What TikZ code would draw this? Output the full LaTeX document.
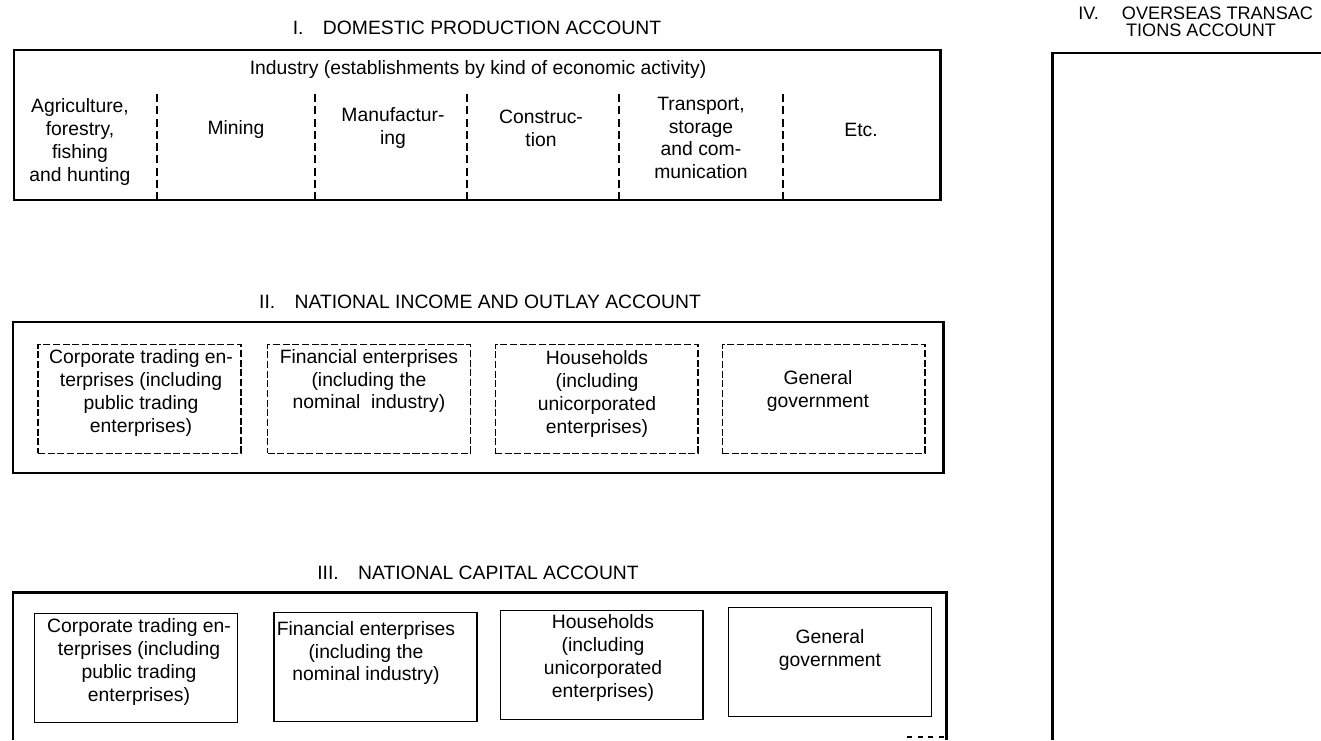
\documentclass[tikz,border=0pt]{standalone}
\usepackage{fontspec}
\setmainfont{Liberation Sans}
\usepackage{tikz}

\begin{document}
\begin{tikzpicture}[x=0.02cm, y=-0.02cm,
  acct/.style={line width=1.7pt},
  sep/.style={line width=1pt, dash pattern=on 4.5pt off 2.5pt},
  sector/.style={draw, line width=0.6pt, minimum width=4.06cm, minimum height=2.18cm, inner sep=0pt},
  sectord/.style={sector, dash pattern=on 4pt off 1.5pt},
  txt/.style={font=\fontsize{11}{13}\selectfont, align=center, inner sep=0pt},
  ttl/.style={font=\fontsize{11}{13}\selectfont, inner sep=0pt},
  ttls/.style={font=\fontsize{10.3}{12}\selectfont, inner sep=0pt}]
  \useasboundingbox (0,0) rectangle (1321,740);

  \node[ttl] (t1) at (477,28) {I.\quad DOMESTIC PRODUCTION ACCOUNT};
  \draw[acct] (14,50) rectangle (940,200);
  \node[txt] (ind) at (478,70) {Industry (establishments by kind of economic activity)};

  \draw[sep] (157,94) -- (157,200);
  \draw[sep] (315,94) -- (315,200);
  \draw[sep] (467,94) -- (467,200);
  \draw[sep] (619,94) -- (619,200);
  \draw[sep] (783,94) -- (783,200);

  \node[txt] (agr) at (80,142) {Agriculture,\\forestry,\\fishing\\and hunting};
  \node[txt] (mng) at (236,130) {Mining};
  \node[txt] (mfg) at (393,128) {Manufactur-\\ing};
  \node[txt] (cns) at (541,128) {Construc-\\tion};
  \node[txt] (trn) at (701,138) {Transport,\\storage\\and com-\\munication};
  \node[txt] (etc) at (861,130) {Etc.};

  \node[ttl] (t2) at (480,302) {II.\quad NATIONAL INCOME AND OUTLAY ACCOUNT};
  \draw[acct] (13,322) rectangle (943,473);

  \node[sectord] (corp2) at (139.5,399) {};
  \node[sectord] (fin2) at (369,399) {};
  \node[sectord] (hh2) at (596.5,399) {};
  \node[sectord] (gov2) at (823.5,399) {};

  \node[txt] (corp2t) at (141,393) {Corporate trading en-\\terprises (including\\public trading\\enterprises)};
  \node[txt] (fin2t) at (369,381) {Financial enterprises\\(including the\\nominal\ \ industry)};
  \node[txt] (hh2t) at (597,394) {Households\\(including\\unicorporated\\enterprises)};
  \node[txt] (gov2t) at (818,391) {General\\government};

  \node[ttl] (t3) at (478,573) {III.\quad NATIONAL CAPITAL ACCOUNT};
  \draw[acct] (13,740) -- (13,592) -- (946,592) -- (946,740);
  \draw[line width=0.6pt, dashed] (907,737) -- (946,737);

  \node[sector] (corp3) at (136,668) {};
  \node[sector] (fin3) at (375.5,667) {};
  \node[sector] (hh3) at (601.5,665) {};
  \node[sector] (gov3) at (830,662) {};

  \node[txt] (corp3t) at (139,662) {Corporate trading en-\\terprises (including\\public trading\\enterprises)};
  \node[txt] (fin3t) at (366,653) {Financial enterprises\\(including the\\nominal industry)};
  \node[txt] (hh3t) at (603,658) {Households\\(including\\unicorporated\\enterprises)};
  \node[txt] (gov3t) at (830,650) {General\\government};

  \node[ttls, anchor=west] (t4a) at (1078,13) {IV.\quad\ OVERSEAS TRANSAC};
  \node[ttls] (t4b) at (1201,30) {TIONS ACCOUNT};
  \draw[acct] (1052,740) -- (1052,53) -- (1321,53);

\end{tikzpicture}
\end{document}
